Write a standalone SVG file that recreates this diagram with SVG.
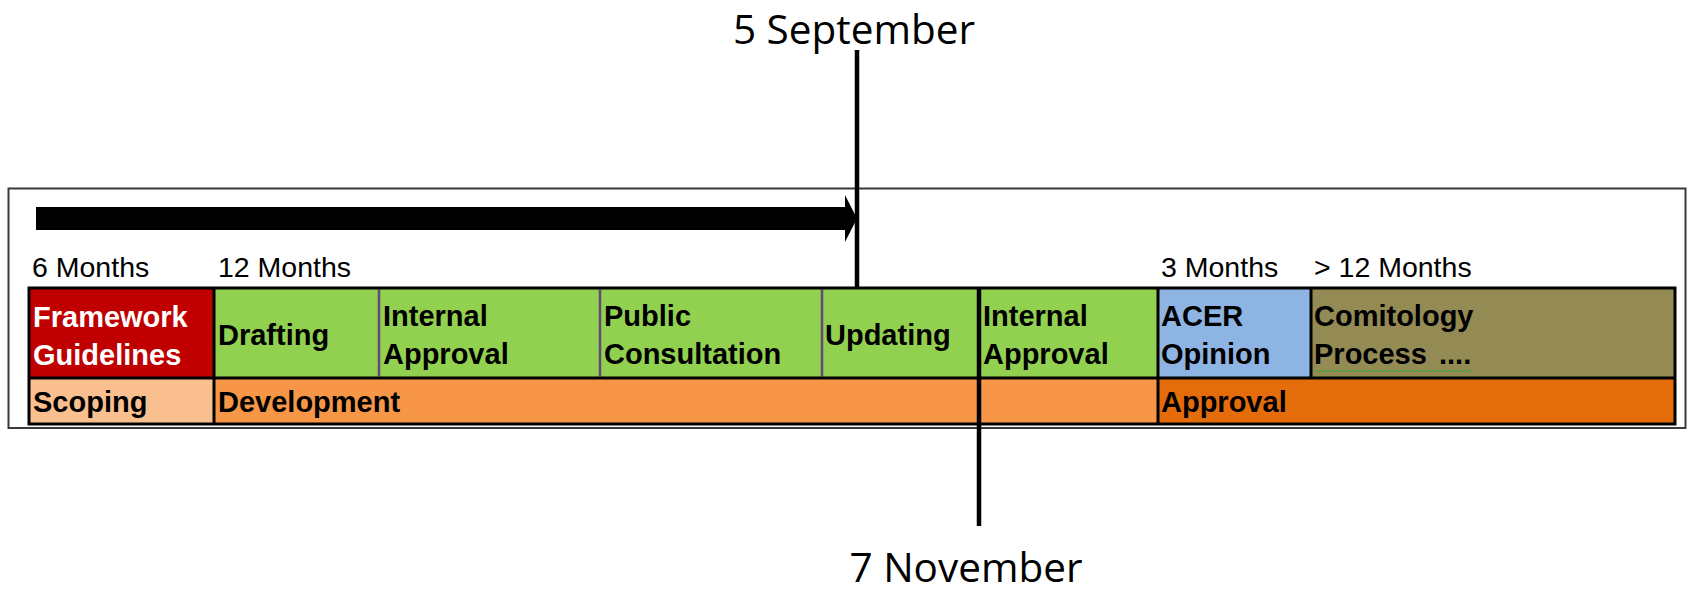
<svg xmlns="http://www.w3.org/2000/svg" width="1689" height="594" viewBox="0 0 1689 594">
<style>
.lbl{font-family:"Liberation Sans",Arial,sans-serif;font-weight:bold;font-size:29px;fill:#000}
.wht{fill:#fff}
.mon{font-family:"Liberation Sans",Arial,sans-serif;font-size:28.5px;fill:#000}
.date{font-family:"Open Sans","Noto Sans",sans-serif;font-size:40.5px;fill:#000}
.bk{stroke:#000;stroke-width:3;fill:none}
.pu{stroke:#604A7B;stroke-width:2.5;fill:none}
.dl{stroke:#000;stroke-width:4.5;fill:none}
</style>
<rect width="1689" height="594" fill="#fff"/>
<rect x="8.5" y="188.5" width="1677" height="239.5" fill="#fff" stroke="#3a3a3a" stroke-width="2"/>

<g id="months">
<text class="mon" x="32" y="277">6 Months</text>
<text class="mon" x="218" y="277">12 Months</text>
<text class="mon" x="1161" y="277">3 Months</text>
<text class="mon" x="1314" y="277">&gt; 12 Months</text>
</g>

<g id="framework">
<rect x="29" y="288" width="185" height="90" fill="#C00000"/>
<text class="lbl wht" x="33" y="327">Framework</text>
<text class="lbl wht" x="33" y="365">Guidelines</text>
</g>
<g id="drafting">
<rect x="214" y="288" width="165" height="90" fill="#92D050"/>
<text class="lbl" x="218" y="345">Drafting</text>
</g>
<g id="internal1">
<rect x="379" y="288" width="221" height="90" fill="#92D050"/>
<text class="lbl" x="383" y="326">Internal</text>
<text class="lbl" x="383" y="364">Approval</text>
</g>
<g id="public">
<rect x="600" y="288" width="222" height="90" fill="#92D050"/>
<text class="lbl" x="604" y="326">Public</text>
<text class="lbl" x="604" y="364">Consultation</text>
</g>
<g id="updating">
<rect x="822" y="288" width="157" height="90" fill="#92D050"/>
<text class="lbl" x="825" y="345">Updating</text>
</g>
<g id="internal2">
<rect x="979" y="288" width="179" height="90" fill="#92D050"/>
<text class="lbl" x="983" y="326">Internal</text>
<text class="lbl" x="983" y="364">Approval</text>
</g>
<g id="acer">
<rect x="1158" y="288" width="153" height="90" fill="#8DB4E2"/>
<text class="lbl" x="1161" y="326">ACER</text>
<text class="lbl" x="1161" y="364">Opinion</text>
</g>
<g id="comitology">
<rect x="1311" y="288" width="364" height="90" fill="#948A54"/>
<text class="lbl" x="1314" y="326">Comitology</text>
<text class="lbl" x="1314" y="364">Process <tspan x="1439">....</tspan></text>
<polyline points="1315,372 1317,370 1319,372 1321,370 1323,372 1325,370 1327,372 1329,370 1331,372 1333,370 1335,372 1337,370 1339,372 1341,370 1343,372 1345,370 1347,372 1349,370 1351,372 1353,370 1355,372 1357,370 1359,372 1361,370 1363,372 1365,370 1367,372 1369,370 1371,372 1373,370 1375,372 1377,370 1379,372 1381,370 1383,372 1385,370 1387,372 1389,370 1391,372 1393,370 1395,372 1397,370 1399,372 1401,370 1403,372 1405,370 1407,372 1409,370 1411,372 1413,370 1415,372 1417,370 1419,372 1421,370 1423,372 1425,370 1427,372 1429,370 1431,372 1433,370 1435,372 1437,370 1439,372 1441,370 1443,372 1445,370 1447,372 1449,370 1451,372 1453,370 1455,372 1457,370 1459,372 1461,370 1463,372 1465,370 1467,372 1469,370 1471,372" fill="none" stroke="#2eaa2e" stroke-width="1"/>
</g>
<g id="scoping">
<rect x="29" y="378" width="185" height="46" fill="#FABF8F"/>
<text class="lbl" x="33" y="412">Scoping</text>
</g>
<g id="development">
<rect x="214" y="378" width="944" height="46" fill="#F79646"/>
<text class="lbl" x="218" y="412">Development</text>
</g>
<g id="approval">
<rect x="1158" y="378" width="517" height="46" fill="#E46C0A"/>
<text class="lbl" x="1161" y="412">Approval</text>
</g>

<g id="grid">
<line class="pu" x1="379" y1="289.5" x2="379" y2="376.5"/>
<line class="pu" x1="600" y1="289.5" x2="600" y2="376.5"/>
<line class="pu" x1="822" y1="289.5" x2="822" y2="376.5"/>
<rect class="bk" x="29" y="288" width="1646" height="136"/>
<line class="bk" x1="29" y1="378" x2="1675" y2="378"/>
<line class="bk" x1="214" y1="288" x2="214" y2="424"/>
<line class="bk" x1="1158" y1="288" x2="1158" y2="424"/>
<line class="bk" x1="1311" y1="288" x2="1311" y2="378"/>
</g>

<g id="connectors">
<polygon points="36,207 845,207 845,195 857,218.5 845,242 845,230 36,230" fill="#000"/>
<line class="dl" x1="857" y1="50" x2="857" y2="288"/>
<line class="dl" x1="979" y1="288" x2="979" y2="526"/>
</g>

<g id="dates">
<text class="date" x="854" y="44" text-anchor="middle">5 September</text>
<text class="date" x="966" y="582" text-anchor="middle">7 November</text>
</g>
</svg>
